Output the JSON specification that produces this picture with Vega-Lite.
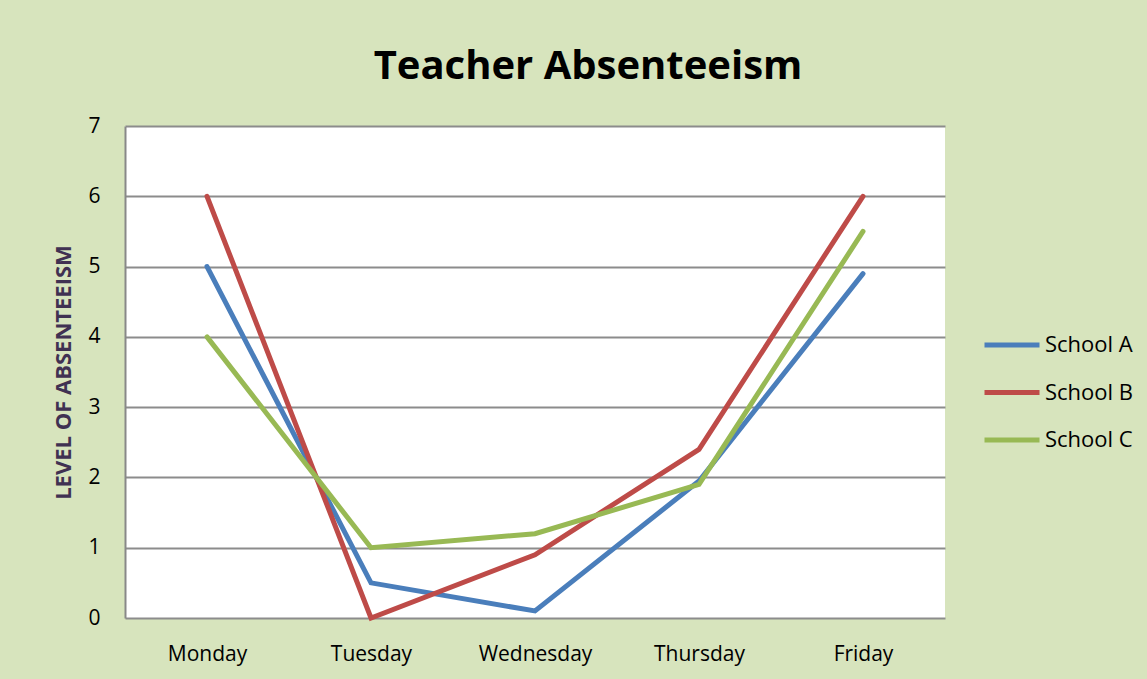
{
  "$schema": "https://vega.github.io/schema/vega-lite/v6.json",
  "autosize": "none",
  "padding": {"left": 125, "top": 126, "right": 202, "bottom": 61},
  "width": 820,
  "height": 492,
  "background": "#d7e4bd",
  "title": {
    "text": "Teacher Absenteeism",
    "font": "Open Sans",
    "fontSize": 40,
    "fontWeight": "bold",
    "color": "#000000",
    "anchor": "middle",
    "frame": "group",
    "dx": 53,
    "offset": 28
  },
  "data": {
    "values": [
      {"day": "Monday", "school": "School A", "level": 5},
      {"day": "Tuesday", "school": "School A", "level": 0.5},
      {"day": "Wednesday", "school": "School A", "level": 0.1},
      {"day": "Thursday", "school": "School A", "level": 1.95},
      {"day": "Friday", "school": "School A", "level": 4.9},
      {"day": "Monday", "school": "School B", "level": 6},
      {"day": "Tuesday", "school": "School B", "level": 0},
      {"day": "Wednesday", "school": "School B", "level": 0.9},
      {"day": "Thursday", "school": "School B", "level": 2.4},
      {"day": "Friday", "school": "School B", "level": 6},
      {"day": "Monday", "school": "School C", "level": 4},
      {"day": "Tuesday", "school": "School C", "level": 1},
      {"day": "Wednesday", "school": "School C", "level": 1.2},
      {"day": "Thursday", "school": "School C", "level": 1.9},
      {"day": "Friday", "school": "School C", "level": 5.5}
    ]
  },
  "mark": {"type": "line", "strokeWidth": 5, "strokeCap": "round", "strokeJoin": "miter"},
  "encoding": {
    "x": {
      "field": "day",
      "type": "ordinal",
      "sort": ["Monday", "Tuesday", "Wednesday", "Thursday", "Friday"],
      "scale": {"type": "point", "padding": 0.5},
      "axis": {
        "title": null,
        "labelAngle": 0,
        "domain": false,
        "ticks": false,
        "grid": false,
        "labelFont": "Open Sans",
        "labelFontSize": 21,
        "labelColor": "#000000",
        "labelPadding": 25
      }
    },
    "y": {
      "field": "level",
      "type": "quantitative",
      "scale": {"domain": [0, 7], "nice": false},
      "axis": {
        "values": [0, 1, 2, 3, 4, 5, 6, 7],
        "title": "LEVEL OF ABSENTEEISM",
        "titleFont": "Open Sans",
        "titleFontSize": 22,
        "titleFontWeight": "bold",
        "titleColor": "#403152",
        "titleX": -62,
        "titleY": 246,
        "titleAngle": -90,
        "titleBaseline": "middle",
        "titleAlign": "center",
        "domain": true,
        "domainColor": "#888888",
        "domainWidth": 2,
        "ticks": false,
        "grid": true,
        "gridColor": "#8c8c8c",
        "gridWidth": 2,
        "labelFont": "Open Sans",
        "labelFontSize": 21,
        "labelColor": "#000000",
        "labelPadding": 25
      }
    },
    "color": {
      "field": "school",
      "type": "nominal",
      "scale": {"domain": ["School A", "School B", "School C"], "range": ["#4a7ebb", "#be4b48", "#98b954"]},
      "legend": {
        "title": null,
        "orient": "none",
        "legendX": 857,
        "legendY": 189,
        "padding": 0,
        "symbolType": "stroke",
        "symbolSize": 3025,
        "symbolStrokeWidth": 5,
        "rowPadding": 6.5,
        "labelOffset": 3,
        "labelFont": "Open Sans",
        "labelFontSize": 22,
        "labelColor": "#000000"
      }
    }
  },
  "config": {
    "view": {"fill": "#ffffff", "stroke": null}
  }
}
